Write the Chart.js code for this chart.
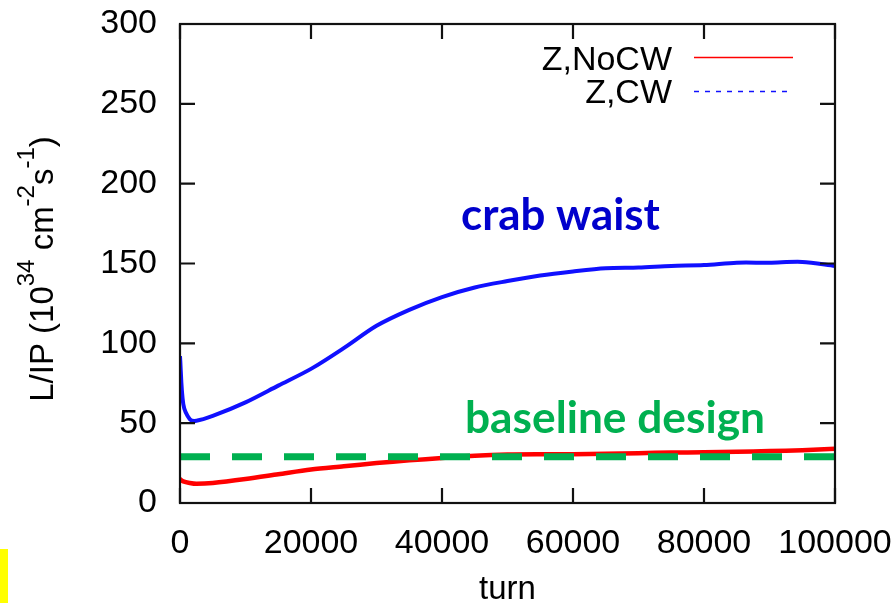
<!DOCTYPE html>
<html lang="en">
<head>
<meta charset="UTF-8">
<title>L/IP vs turn</title>
<script src="https://cdn.jsdelivr.net/npm/chart.js"></script>
<style>
  html, body { margin: 0; padding: 0; background: #fff; }
  #wrap { position: relative; width: 895px; height: 603px; }
  #marca { position: absolute; left: 0; top: 549px; width: 8px; height: 54px; background: #ffff00; }
</style>
</head>
<body>
<div id="wrap">
  <canvas id="grafico"></canvas>
  <div id="marca"></div>
</div>
<script>
// valores (turn -> L/IP em 10^34 cm^-2 s^-1)
const turns   = [0, 500, 1500, 2500, 5000, 10000, 15000, 20000, 25000, 30000, 35000, 40000,
                 45000, 50000, 55000, 60000, 65000, 70000, 75000, 80000, 85000, 90000, 95000, 100000];
const lumCW   = [92, 62, 52.5, 51.5, 54.5, 63, 73.5, 84, 97, 111, 121, 129,
                 135, 139, 142.5, 145, 147, 147.5, 148.5, 149, 150.5, 150.5, 151, 148.5];
const lumNoCW = [15, 13.5, 12.5, 12, 12.5, 15, 18, 21, 23, 25, 26.7, 28.2,
                 29.6, 30.4, 30.6, 30.6, 30.8, 31.2, 31.6, 31.8, 32.1, 32.5, 33.1, 34];
const baselineDesign = 29;
const seriesNames = ["Z,NoCW", "Z,CW"];
const xRange = [0, 100000], xStep = 20000;
const yRange = [0, 300], yStep = 50;

const fonteTick = '"Liberation Sans", Arial, sans-serif';

function pontos(xs, ys) { return xs.map((x, i) => ({ x: x, y: ys[i] })); }

// moldura completa + ticks para dentro nos 4 lados
const moldura = {
  id: 'moldura',
  afterDatasetsDraw(chart) {
    const ctx = chart.ctx, a = chart.chartArea;
    const sx = chart.scales.x, sy = chart.scales.y;
    ctx.save();
    ctx.strokeStyle = '#111';
    ctx.lineWidth = 2.2;
    ctx.strokeRect(a.left, a.top, a.right - a.left, a.bottom - a.top);
    ctx.beginPath();
    sx.ticks.forEach(t => {
      const p = sx.getPixelForValue(t.value);
      ctx.moveTo(p, a.bottom); ctx.lineTo(p, a.bottom - 15);
      ctx.moveTo(p, a.top); ctx.lineTo(p, a.top + 15);
    });
    sy.ticks.forEach(t => {
      const p = sy.getPixelForValue(t.value);
      ctx.moveTo(a.left, p); ctx.lineTo(a.left + 15, p);
      ctx.moveTo(a.right, p); ctx.lineTo(a.right - 15, p);
    });
    ctx.stroke();
    ctx.restore();
  }
};

// ajusta o tamanho da fonte para caber numa largura
function fonteParaLargura(ctx, texto, familia, peso, largura) {
  ctx.font = peso + ' 100px ' + familia;
  return 100 * largura / ctx.measureText(texto).width;
}

const textos = {
  id: 'textos',
  afterDraw(chart) {
    const ctx = chart.ctx, a = chart.chartArea;
    ctx.save();
    ctx.fillStyle = '#000';

    // titulo do eixo y com sobrescritos
    const partes = [['L/IP (10', 0], ['34', 1], [' cm', 0], ['-2', 1], ['s', 0], ['-1', 1], [')', 0]];
    const grande = '33px ' + fonteTick, pequena = '24px ' + fonteTick;
    let total = 0;
    partes.forEach(p => { ctx.font = p[1] ? pequena : grande; total += ctx.measureText(p[0]).width; });
    ctx.save();
    ctx.translate(53, 269);
    ctx.rotate(-Math.PI / 2);
    ctx.textAlign = 'left';
    ctx.textBaseline = 'alphabetic';
    let x = -total / 2;
    partes.forEach(p => {
      ctx.font = p[1] ? pequena : grande;
      ctx.fillText(p[0], x, p[1] ? -19 : 0);
      x += ctx.measureText(p[0]).width;
    });
    ctx.restore();

    // titulo do eixo x
    ctx.font = '33px ' + fonteTick;
    ctx.textAlign = 'center';
    ctx.textBaseline = 'alphabetic';
    ctx.fillText('turn', (a.left + a.right) / 2, 599);

    // legenda
    const ds = chart.data.datasets;
    ctx.textAlign = 'right';
    [[0, 70, 57.5], [1, 103, 91.5]].forEach(([i, yb, yl]) => {
      ctx.fillStyle = '#000';
      ctx.font = '34px ' + fonteTick;
      ctx.fillText(ds[i].label, 672, yb);
      ctx.beginPath();
      ctx.strokeStyle = ds[i].borderColor;
      ctx.lineWidth = 1.5;
      ctx.setLineDash(i === 1 ? [5, 6] : []);
      ctx.moveTo(694, yl);
      ctx.lineTo(i === 1 ? 787 : 793, yl);
      ctx.stroke();
    });
    ctx.setLineDash([]);

    // anotacoes
    const fam = 'Lato, "Open Sans", sans-serif';
    ctx.textAlign = 'left';
    let s = fonteParaLargura(ctx, 'crab waist', fam, 'bold', 199);
    ctx.font = 'bold ' + s + 'px ' + fam;
    ctx.fillStyle = '#0000cc';
    ctx.fillText('crab waist', 461, 230);
    s = fonteParaLargura(ctx, 'baseline design', fam, 'bold', 300);
    ctx.font = 'bold ' + s + 'px ' + fam;
    ctx.fillStyle = '#00b050';
    ctx.fillText('baseline design', 465, 433);
    ctx.restore();
  }
};

function semMargem(s) {
  s.paddingLeft = 0; s.paddingRight = 0; s.paddingTop = 0; s.paddingBottom = 0;
}

const config = {
  type: 'line',
  data: {
    datasets: [
      {
        label: seriesNames[0],
        data: pontos(turns, lumNoCW),
        borderColor: '#ff0000',
        borderWidth: 4.5,
        pointRadius: 0,
        tension: 0.3,
        order: 1
      },
      {
        label: seriesNames[1],
        data: pontos(turns, lumCW),
        borderColor: '#1010ff',
        borderWidth: 4,
        pointRadius: 0,
        tension: 0.3,
        order: 2
      },
      {
        label: 'baseline design',
        data: pontos(xRange, [baselineDesign, baselineDesign]),
        borderColor: '#00b050',
        borderWidth: 7,
        borderDash: [30, 22],
        borderCapStyle: 'butt',
        pointRadius: 0,
        order: 0
      }
    ]
  },
  options: {
    responsive: true,
    maintainAspectRatio: false,
    animation: false,
    layout: { padding: { left: 0, right: 60, top: 24, bottom: 0 } },
    plugins: { legend: { display: false }, tooltip: { enabled: false } },
    scales: {
      x: {
        type: 'linear',
        min: xRange[0], max: xRange[1],
        grid: { display: false, drawTicks: false },
        border: { display: false },
        ticks: { stepSize: xStep, padding: 20, color: '#000', maxRotation: 0,
                 callback: v => String(v),
                 font: { family: fonteTick, size: 34 } },
        afterFit: s => { s.height = 100; semMargem(s); }
      },
      y: {
        min: yRange[0], max: yRange[1],
        grid: { display: false, drawTicks: false },
        border: { display: false },
        ticks: { stepSize: yStep, padding: 23, color: '#000',
                 font: { family: fonteTick, size: 34 } },
        afterFit: s => { s.width = 180; semMargem(s); }
      }
    }
  },
  plugins: [moldura, textos]
};

const grafico = new Chart(document.getElementById('grafico'), config);
</script>
</body>
</html>
